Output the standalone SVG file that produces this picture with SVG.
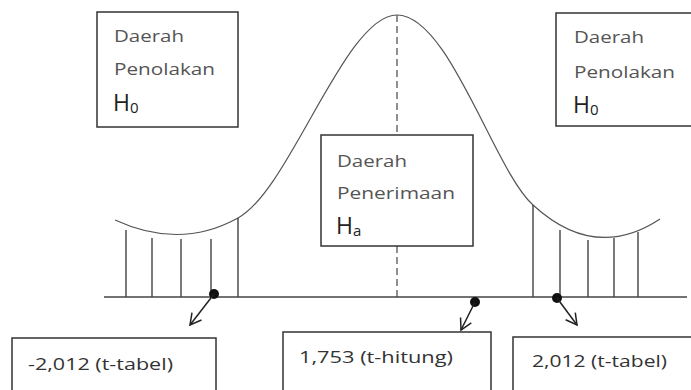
<svg xmlns="http://www.w3.org/2000/svg" width="691" height="390" viewBox="0 0 691 390">
<defs>
<style>
.box{fill:#fff;stroke:#333;stroke-width:1.5}
.lbl{font-family:"Open Sans","Liberation Sans",sans-serif;font-size:17px;fill:#555}
.h{font-family:"Open Sans","Liberation Sans",sans-serif;font-size:23px;fill:#222}
.sub{font-size:15px}
.val{font-family:"Open Sans","Liberation Sans",sans-serif;font-size:17px;fill:#333}
.curve{fill:none;stroke:#555;stroke-width:1.2}
.vl{stroke:#333;stroke-width:1.3}
.axis{stroke:#444;stroke-width:1.5}
.arr{stroke:#222;stroke-width:1.5;fill:none;marker-end:url(#ah)}
</style>
<marker id="ah" viewBox="0 0 14 14" refX="12" refY="7" markerWidth="14" markerHeight="14" markerUnits="userSpaceOnUse" orient="auto">
<path d="M1,1 L12,7 L1,13" fill="none" stroke="#222" stroke-width="1.5"/>
</marker>
</defs>
<g id="chart">
<path class="curve" d="M115,220 Q180,250 238,218 C290,190 345,15 397,15 C449,15 494,170 533,205 Q595,262 660,219"/>
<line x1="397" y1="15" x2="397" y2="297" stroke="#555" stroke-width="1.3" stroke-dasharray="7,4"/>
<line class="vl" x1="126" y1="230" x2="126" y2="297"/>
<line class="vl" x1="152" y1="238" x2="152" y2="297"/>
<line class="vl" x1="181" y1="239" x2="181" y2="297"/>
<line class="vl" x1="211" y1="239" x2="211" y2="297"/>
<line class="vl" x1="238" y1="218" x2="238" y2="297"/>
<line class="vl" x1="533" y1="205" x2="533" y2="297"/>
<line class="vl" x1="560" y1="230" x2="560" y2="297"/>
<line class="vl" x1="588" y1="240" x2="588" y2="297"/>
<line class="vl" x1="614" y1="238" x2="614" y2="297"/>
<line class="vl" x1="638" y1="232" x2="638" y2="297"/>
<line class="axis" x1="104" y1="297" x2="687" y2="297"/>
</g>
<g id="box-left-reject">
<rect class="box" x="97" y="12" width="141" height="115"/>
<text class="lbl" x="114" y="42" textLength="70" lengthAdjust="spacingAndGlyphs">Daerah</text>
<text class="lbl" x="114" y="75" textLength="101" lengthAdjust="spacingAndGlyphs">Penolakan</text>
<text class="h" x="113" y="111">H<tspan class="sub" dy="2">0</tspan></text>
</g>
<g id="box-right-reject">
<rect class="box" x="556" y="13" width="140" height="113"/>
<text class="lbl" x="574" y="43" textLength="70" lengthAdjust="spacingAndGlyphs">Daerah</text>
<text class="lbl" x="574" y="78" textLength="101" lengthAdjust="spacingAndGlyphs">Penolakan</text>
<text class="h" x="573" y="113">H<tspan class="sub" dy="2">0</tspan></text>
</g>
<g id="box-accept">
<rect class="box" x="321" y="135" width="152" height="111"/>
<text class="lbl" x="337" y="167" textLength="70" lengthAdjust="spacingAndGlyphs">Daerah</text>
<text class="lbl" x="337" y="199" textLength="118" lengthAdjust="spacingAndGlyphs">Penerimaan</text>
<text class="h" x="336" y="234">H<tspan class="sub" dy="2">a</tspan></text>
</g>
<g id="box-ttabel-neg">
<rect class="box" x="12" y="338" width="204" height="60"/>
<text class="val" x="28" y="370" textLength="145" lengthAdjust="spacingAndGlyphs">-2,012 (t-tabel)</text>
</g>
<g id="box-thitung">
<rect class="box" x="283" y="332" width="208" height="66"/>
<text class="val" x="299" y="363" textLength="154" lengthAdjust="spacingAndGlyphs">1,753 (t-hitung)</text>
</g>
<g id="box-ttabel-pos">
<rect class="box" x="513" y="337" width="185" height="60"/>
<text class="val" x="532" y="367" textLength="135" lengthAdjust="spacingAndGlyphs">2,012 (t-tabel)</text>
</g>
<g id="connectors">
<circle cx="214" cy="294" r="5" fill="#111"/>
<line class="arr" x1="214" y1="294" x2="190" y2="325"/>
<circle cx="475" cy="302" r="5" fill="#111"/>
<line class="arr" x1="475" y1="302" x2="461" y2="330"/>
<circle cx="557" cy="298" r="5" fill="#111"/>
<line class="arr" x1="557" y1="298" x2="577" y2="325"/>
</g>
</svg>
